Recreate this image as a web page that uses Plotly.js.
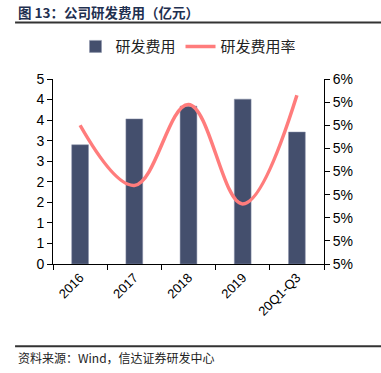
<!DOCTYPE html>
<html>
<head>
<meta charset="utf-8">
<script src="https://cdn.plot.ly/plotly-3.0.1.min.js"></script>
<style>html,body{margin:0;padding:0;background:#fff;}#chart{width:381px;height:373px;}</style>
</head>
<body>
<div id="chart"></div>
<script>
const categories = ["2016", "2017", "2018", "2019", "20Q1-Q3"];
const rdExpense = [2.90, 3.53, 3.84, 4.01, 3.21];      // 亿元
const rdRate = [5.30, 5.04, 5.39, 4.96, 5.43];         // %
const leftTickVals = [0, 0.5, 1, 1.5, 2, 2.5, 3, 3.5, 4, 4.5];
const leftTickText = ["0", "1", "1", "2", "2", "3", "3", "4", "4", "5"];
const rightTickVals = [4.7, 4.8, 4.9, 5.0, 5.1, 5.2, 5.3, 5.4, 5.5];
const rightTickText = ["5%", "5%", "5%", "5%", "5%", "5%", "5%", "5%", "6%"];

const font = "Liberation Sans, Arial, sans-serif";
const cjk = "Noto Sans CJK SC, sans-serif";

const traces = [
  {
    type: "bar", name: "研发费用", x: categories, y: rdExpense,
    marker: {color: "#444F6D", line: {color: "#8a93aa", width: 0.5}},
    width: 0.31, yaxis: "y"
  },
  {
    type: "scatter", mode: "lines", name: "研发费用率", x: categories, y: rdRate,
    line: {color: "#FF7C7C", width: 3.5, shape: "spline", smoothing: 1.1},
    yaxis: "y2"
  }
];

const layout = {
  width: 381, height: 373,
  margin: {l: 53, r: 57, t: 79, b: 109},
  paper_bgcolor: "#fff", plot_bgcolor: "#fff",
  showlegend: true,
  legend: {
    orientation: "h", x: 0.5, xanchor: "center", y: 1.175, yanchor: "middle",
    font: {family: cjk, size: 15, color: "#222"},
    itemwidth: 30, traceorder: "normal"
  },
  bargap: 0.69,
  xaxis: {
    type: "category",
    showline: true, linecolor: "#000", linewidth: 1,
    ticks: "outside", ticklen: 5, tickcolor: "#000", tickson: "boundaries",
    tickangle: -45, tickfont: {family: font, size: 13, color: "#000"},
    showgrid: false, zeroline: false, fixedrange: true
  },
  yaxis: {
    range: [0, 4.5], tickvals: leftTickVals, ticktext: leftTickText,
    showline: true, linecolor: "#000", linewidth: 1,
    ticks: "outside", ticklen: 5, tickcolor: "#000",
    tickfont: {family: font, size: 14, color: "#000"},
    showgrid: false, zeroline: false
  },
  yaxis2: {
    range: [4.7, 5.5], tickvals: rightTickVals, ticktext: rightTickText,
    overlaying: "y", side: "right",
    showline: true, linecolor: "#000", linewidth: 1,
    ticks: "outside", ticklen: 5, tickcolor: "#000",
    tickfont: {family: font, size: 14, color: "#000"},
    showgrid: false, zeroline: false
  },
  shapes: [
    {type: "line", xref: "paper", yref: "paper", x0: -0.14, x1: 1.22, y0: 1.305, y1: 1.305,
     line: {color: "#333", width: 2}},
    {type: "line", xref: "paper", yref: "paper", x0: -0.14, x1: 1.22, y0: -0.445, y1: -0.445,
     line: {color: "#333", width: 2}}
  ],
  annotations: [
    {text: "<b>图 13：公司研发费用（亿元）</b>", xref: "paper", yref: "paper",
     x: -0.138, y: 1.36, xanchor: "left", yanchor: "middle", showarrow: false,
     font: {family: cjk, size: 13.5, color: "#1F3050"}},
    {text: "资料来源：Wind，信达证券研发中心", xref: "paper", yref: "paper",
     x: -0.138, y: -0.505, xanchor: "left", yanchor: "middle", showarrow: false,
     font: {family: cjk, size: 12, color: "#222"}}
  ]
};

Plotly.newPlot("chart", traces, layout, {displayModeBar: false, staticPlot: true});
</script>
</body>
</html>
